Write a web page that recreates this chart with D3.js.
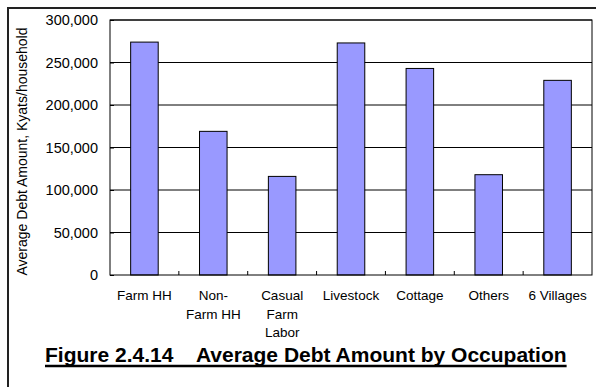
<!DOCTYPE html>
<html><head><meta charset="utf-8">
<script src="https://cdn.jsdelivr.net/npm/d3@7"></script>
<style>body{margin:0;background:#fff}svg{display:block;font-family:Arial,"Liberation Sans",sans-serif}</style>
</head><body><svg id="c" width="596" height="387"></svg>
<script>
const categories = [["Farm HH"],["Non-","Farm HH"],["Casual","Farm","Labor"],["Livestock"],["Cottage"],["Others"],["6 Villages"]];
const values = [274000, 169000, 116000, 273000, 243000, 118000, 229000];
const yTicks = [0, 50000, 100000, 150000, 200000, 250000, 300000];
const yLabel = "Average Debt Amount, Kyats/household";
const title = "Figure 2.4.14    Average Debt Amount by Occupation";

const svg = d3.select("#c");
const m = {l:110, t:20, r:592, b:275};
const names = categories.map(c => c.join(" "));
const x = d3.scaleBand().domain(names).range([m.l, m.r]).paddingInner(0.6).paddingOuter(0.3);
const y = d3.scaleLinear().domain([0, 300000]).range([m.b, m.t]);

// outer frame (left & top)
svg.append("path").attr("d", `M8,387V8H596`).attr("fill","none").attr("stroke","#222").attr("stroke-width",2);

// gridlines
svg.append("g").selectAll("line").data(yTicks.slice(1)).join("line")
  .attr("x1", m.l).attr("x2", m.r).attr("y1", d=>y(d)).attr("y2", d=>y(d))
  .attr("stroke","#000").attr("stroke-width",1);

// y axis
const ya = svg.append("g").attr("transform",`translate(${m.l},0)`)
  .call(d3.axisLeft(y).tickValues(yTicks).tickFormat(d3.format(",")).tickSize(-4).tickPadding(12));
ya.select(".domain").remove();
ya.selectAll("line").attr("stroke","#000");
ya.selectAll("text").attr("font-size",14.5).attr("fill","#000").attr("font-family","Arial, 'Liberation Sans', sans-serif");

// bars
svg.append("g").selectAll("rect").data(values).join("rect")
  .attr("x",(d,i)=>x(names[i])).attr("width",x.bandwidth())
  .attr("y",d=>y(d)).attr("height",d=>y(0)-y(d))
  .attr("fill","#9999FF").attr("stroke","#000").attr("stroke-width",1);

// plot frame
svg.append("rect").attr("x",m.l).attr("y",m.t).attr("width",m.r-m.l).attr("height",m.b-m.t)
  .attr("fill","none").attr("stroke","#000").attr("stroke-width",1);

// x ticks at category boundaries
svg.append("g").selectAll("line").data(d3.range(1, names.length)).join("line")
  .attr("x1", i=>m.l+i*(m.r-m.l)/names.length).attr("x2", i=>m.l+i*(m.r-m.l)/names.length)
  .attr("y1", m.b).attr("y2", m.b-4).attr("stroke","#000");

// x labels
const xl = svg.append("g").selectAll("text").data(categories).join("text")
  .attr("x",(d,i)=>x(names[i])+x.bandwidth()/2).attr("y",300)
  .attr("text-anchor","middle").attr("font-size",13.5).attr("fill","#000");
xl.each(function(d){
  const t = d3.select(this);
  d.forEach((s,k)=>t.append("tspan").attr("x",t.attr("x")).attr("dy",k?18.5:0).text(s));
});

// y label
svg.append("text").attr("transform",`translate(27,${(m.t+m.b)/2+4}) rotate(-90)`)
  .attr("text-anchor","middle").attr("font-size",14).attr("fill","#000").text(yLabel);

// title
const tt = svg.append("text").attr("x",45).attr("y",362).attr("font-size",21).attr("font-weight","bold")
  .attr("fill","#000").style("white-space","pre").text(title);
const tw = tt.node().getComputedTextLength();
svg.append("line").attr("x1",45).attr("x2",45+tw).attr("y1",366).attr("y2",366)
  .attr("stroke","#000").attr("stroke-width",2.5);
</script></body></html>
